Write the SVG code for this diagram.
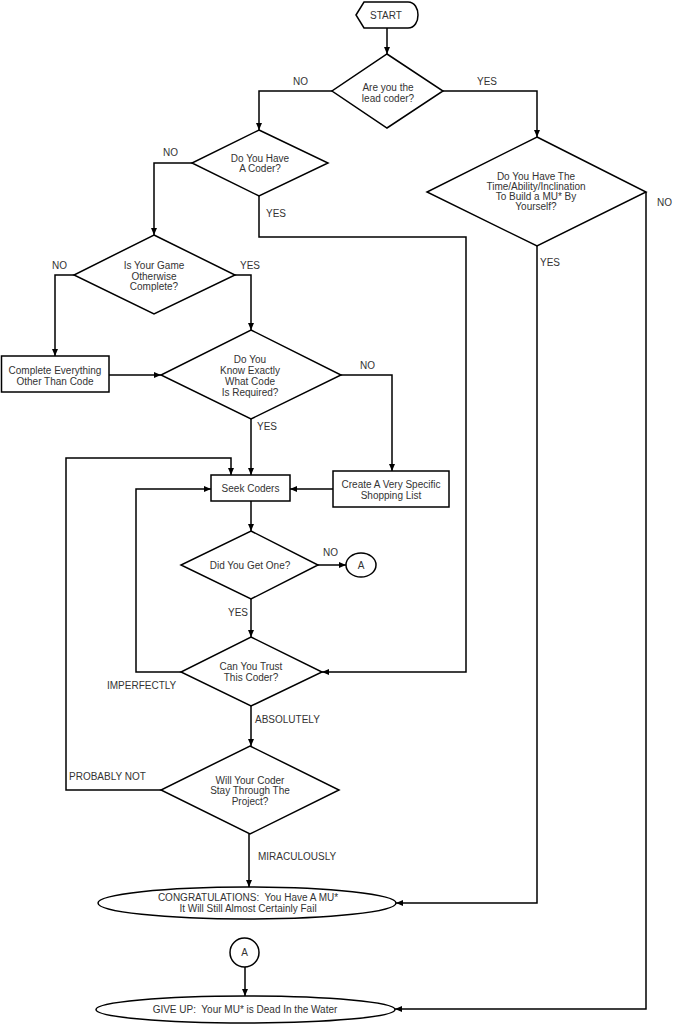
<svg xmlns="http://www.w3.org/2000/svg" width="673" height="1024" viewBox="0 0 673 1024">
<style>
.s{fill:#fff;stroke:#000;stroke-width:1.5}
.c{fill:none;stroke:#000;stroke-width:1.5;marker-end:url(#ah)}
text{font-family:"Liberation Sans",Arial,sans-serif;font-size:10px;fill:#333}
.m{text-anchor:middle}
.t{font-size:10px;white-space:pre}
</style>
<defs>
<marker id="ah" viewBox="0 0 7 6" refX="7" refY="3" markerWidth="7" markerHeight="6" markerUnits="userSpaceOnUse" orient="auto">
<path d="M0,0 L7,3 L0,6 z" fill="#000"/>
</marker>
</defs>
<rect width="673" height="1024" fill="#fff"/>
<g id="connectors">
<path class="c" d="M387,28 V54"/>
<path class="c" d="M332,91 H259 V130"/>
<path class="c" d="M443,91 H537 V137"/>
<path class="c" d="M192,163 H154 V235"/>
<path class="c" d="M259,196 V237 H466 V672 H322"/>
<path class="c" d="M74,275 H55 V356"/>
<path class="c" d="M235,275 H251 V330"/>
<path class="c" d="M109,375 H161"/>
<path class="c" d="M341,375 H392 V471"/>
<path class="c" d="M251,419 V475"/>
<path class="c" d="M333,489 H290"/>
<path class="c" d="M251,501 V531"/>
<path class="c" d="M318,565 H346"/>
<path class="c" d="M251,599 V637"/>
<path class="c" d="M181,672 H136 V489 H211"/>
<path class="c" d="M251,706 V746"/>
<path class="c" d="M161,790 H66 V458 H231 V475"/>
<path class="c" d="M249,834 V887"/>
<path class="c" d="M537,246 V903 H396"/>
<path class="c" d="M646,192 V1009 H395"/>
<path class="c" d="M245,967 V996"/>
<text x="293" y="85">NO</text>
<text x="477" y="85">YES</text>
<text x="163" y="156">NO</text>
<text x="266" y="217">YES</text>
<text x="52" y="269">NO</text>
<text x="240" y="269">YES</text>
<text x="360" y="369">NO</text>
<text x="257" y="430">YES</text>
<text x="323" y="556">NO</text>
<text x="228" y="616">YES</text>
<text x="107" y="689">IMPERFECTLY</text>
<text x="255" y="723">ABSOLUTELY</text>
<text x="69" y="780">PROBABLY NOT</text>
<text x="258" y="860">MIRACULOUSLY</text>
<text x="540" y="266">YES</text>
<text x="657" y="206">NO</text>
</g>
<g id="start">
<path class="s" d="M356,15 L364,2 L408,2 C415,2 418,9 418,15 C418,21 415,28 408,28 L364,28 Z"/>
<text class="m" x="386" y="19">START</text>
</g>
<g id="lead">
<path class="s" d="M387,54 L443,91 L387,128 L332,91 Z"/>
<text class="m" x="388" y="91">Are you the</text>
<text class="m" x="388" y="102">lead coder?</text>
</g>
<g id="coder">
<path class="s" d="M259,130 L328,163 L259,196 L192,163 Z"/>
<text class="m" x="260" y="162">Do You Have</text>
<text class="m" x="260" y="172">A Coder?</text>
</g>
<g id="time">
<path class="s" d="M537,137 L646,192 L537,246 L427,192 Z"/>
<text class="m" x="536" y="180">Do You Have The</text>
<text class="m" x="536" y="190">Time/Ability/Inclination</text>
<text class="m" x="536" y="200">To Build a MU* By</text>
<text class="m" x="536" y="210">Yourself?</text>
</g>
<g id="game">
<path class="s" d="M154,235 L235,275 L154,314 L74,275 Z"/>
<text class="m" x="154" y="269">Is Your Game</text>
<text class="m" x="154" y="280">Otherwise</text>
<text class="m" x="154" y="290">Complete?</text>
</g>
<g id="complete">
<rect class="s" x="1.5" y="356" width="107.5" height="36"/>
<text class="m" x="55" y="374">Complete Everything</text>
<text class="m" x="55" y="385">Other Than Code</text>
</g>
<g id="know">
<path class="s" d="M251,330 L341,375 L251,419 L161,375 Z"/>
<text class="m" x="250" y="363">Do You</text>
<text class="m" x="250" y="374">Know Exactly</text>
<text class="m" x="250" y="385">What Code</text>
<text class="m" x="250" y="396">Is Required?</text>
</g>
<g id="shopping">
<rect class="s" x="333" y="471" width="116" height="36"/>
<text class="m" x="391" y="488">Create A Very Specific</text>
<text class="m" x="391" y="499">Shopping List</text>
</g>
<g id="seek">
<rect class="s" x="211" y="475" width="79" height="26"/>
<text class="m" x="250.5" y="492">Seek Coders</text>
</g>
<g id="did">
<path class="s" d="M251,531 L318,565 L251,599 L181,565 Z"/>
<text class="m" x="250" y="569">Did You Get One?</text>
</g>
<g id="a1">
<ellipse class="s" cx="361" cy="565" rx="15" ry="12"/>
<text class="m" x="361" y="569">A</text>
</g>
<g id="trust">
<path class="s" d="M251,637 L322,672 L251,706 L181,672 Z"/>
<text class="m" x="251" y="670">Can You Trust</text>
<text class="m" x="251" y="681">This Coder?</text>
</g>
<g id="will">
<path class="s" d="M250,746 L339,790 L250,834 L161,790 Z"/>
<text class="m" x="250" y="784">Will Your Coder</text>
<text class="m" x="250" y="794">Stay Through The</text>
<text class="m" x="250" y="805">Project?</text>
</g>
<g id="congrats">
<ellipse class="s" cx="247" cy="903" rx="149" ry="16"/>
<text class="m t" x="248" y="901">CONGRATULATIONS:  You Have A MU*</text>
<text class="m t" x="248" y="912">It Will Still Almost Certainly Fail</text>
</g>
<g id="a2">
<circle class="s" cx="244.5" cy="952.5" r="14.5"/>
<text class="m" x="244.5" y="956">A</text>
</g>
<g id="giveup">
<ellipse class="s" cx="245.5" cy="1009.5" rx="149.5" ry="13.5"/>
<text class="m t" x="245" y="1013">GIVE UP:  Your MU* is Dead In the Water</text>
</g>
</svg>
